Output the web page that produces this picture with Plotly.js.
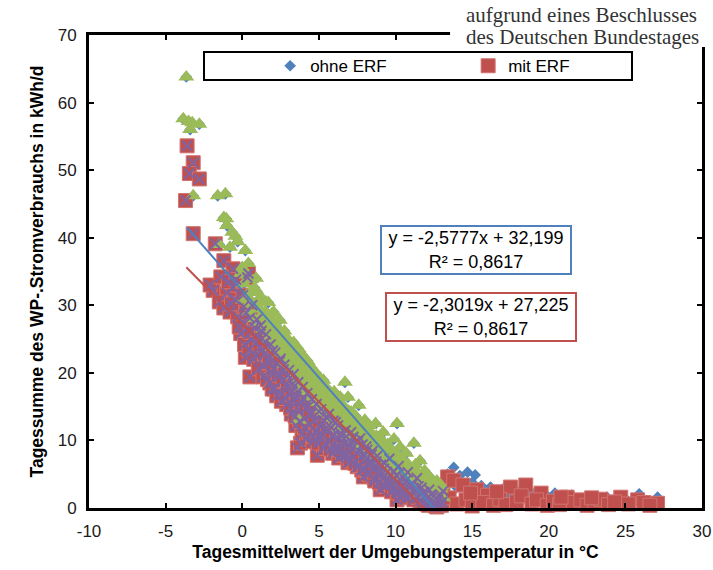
<!DOCTYPE html>
<html>
<head>
<meta charset="utf-8">
<script src="https://cdn.plot.ly/plotly-3.0.1.min.js"></script>
<style>html,body{margin:0;padding:0;background:#fff;}#chart{width:713px;height:570px;}</style>
</head>
<body>
<div id="chart"></div>
<script>
// ohne ERF: daily mean temperature (°C) and daily WP electricity (kWh/d)
const ohneTemp = [-3.65,-3.85,-3.5,-3.26,-2.8,-3.4,-3.2,-1.6,-1.1,-1.04,-1.2,-1.0,-0.65,-0.45,-0.8,-0.3,0.2,-1.5,-0.1,0.5,
  0.0,0.1,0.3,0.4,0.6,0.7,0.8,1.0,1.1,1.2,1.3,1.5,1.6,1.7,1.8,1.9,2.0,2.1,2.2,2.3,2.5,2.6,2.7,2.8,2.9,3.0,3.1,3.2,3.3,3.4,
  3.5,3.6,3.7,3.7,3.8,3.9,4.0,4.1,4.2,4.3,4.4,4.5,4.6,4.7,4.8,4.9,5.0,5.1,5.2,5.3,5.4,5.5,5.6,5.7,5.8,5.9,6.0,6.1,6.2,6.3,
  6.4,6.5,6.6,6.7,6.8,6.9,7.0,7.1,7.2,7.3,7.4,7.6,7.7,7.8,7.9,8.0,8.1,8.3,8.4,8.5,8.7,8.8,8.9,9.0,9.1,9.2,9.4,9.5,9.6,9.7,
  9.9,10.1,10.0,10.2,10.3,10.5,10.6,10.7,10.9,11.0,11.2,11.3,11.5,11.6,11.8,11.9,12.1,12.2,12.4,12.5,12.7,12.8,13.0,13.1,
  0.05,0.25,0.45,0.55,0.75,0.9,1.05,1.15,1.35,1.45,1.55,1.75,1.85,1.95,2.05,2.15,2.35,2.45,2.55,2.65,2.75,2.85,2.95,3.05,
  3.15,3.25,3.35,3.45,3.55,3.65,3.75,3.85,3.95,4.05,4.15,4.25,4.35,4.45,4.55,4.65,4.75,4.85,4.95,5.05,5.15,5.25,5.35,5.45,5.55,5.65,5.75,5.85,5.95,
  6.05,6.15,6.25,6.35,6.45,6.55,6.65,6.75,6.85,6.95,7.05,7.15,7.25,7.35,7.45,7.55,7.65,7.75,7.85,7.95,8.05,8.15,8.25,8.35,8.45,8.55,8.65,8.75,8.85,8.95,
  9.05,9.15,9.25,9.35,9.45,9.55,9.65,9.75,9.85,9.95,10.05,10.15,10.25,10.35,10.45,10.55,10.65,10.75,10.85,10.95,11.05,11.15,11.25,11.4,11.45,11.55,11.7,11.75,11.85,12.0,12.05,12.3,12.35,12.6,12.65,12.9,12.95,
  13.4,13.8,14.2,14.7,15.2,15.0,15.6,16.2,16.6,17.0,17.4,17.9,18.4,18.8,19.3,19.8,20.4,20.9,21.5,22.0,22.6,23.2,23.8,24.4,25.0,25.9,26.4,27.1,
  14.0,16.0,18.0,20.0,22.3,24.8];
const ohneKwh = [63.8,57.6,57.2,57.0,56.8,56.0,46.2,46.2,46.5,42.8,43.0,41.8,40.8,40.2,38.6,39.4,38.1,39.0,34.7,30.3,
  35.6,33.2,31.5,36.2,33.8,30.2,32.6,31.9,29.5,28.4,30.8,29.1,27.2,30.4,26.0,28.7,25.3,27.4,24.1,26.6,25.8,23.2,24.9,22.0,25.1,23.6,21.4,24.0,22.3,20.2,
  22.9,21.0,13.0,19.2,23.1,20.6,21.8,18.7,20.4,17.6,21.2,19.3,16.9,18.5,20.0,15.8,18.0,17.1,14.6,18.9,16.3,15.0,17.4,13.8,16.0,14.9,17.2,12.6,15.4,13.9,
  16.4,12.0,14.6,18.6,13.1,16.4,11.7,14.2,12.9,10.5,13.6,15.2,11.2,12.5,9.6,13.0,10.8,12.2,8.7,10.1,12.5,9.2,7.6,10.4,8.3,11.2,7.0,9.4,6.3,8.6,
  10.2,12.5,7.4,5.6,9.0,6.8,4.7,8.1,5.9,3.8,9.6,6.4,4.4,7.0,3.2,5.5,2.6,4.7,3.6,1.8,4.0,2.4,3.3,1.5,
  30.8,34.5,29.0,32.0,28.0,34.0,27.3,31.0,26.5,28.0,30.5,25.0,27.6,23.8,29.0,25.5,22.8,27.8,24.3,21.3,26.2,23.5,20.7,24.8,
  22.6,19.6,24.5,21.6,18.6,23.6,20.8,17.8,22.3,19.9,17.2,21.8,19.3,16.4,20.6,18.0,15.6,19.6,17.2,14.8,19.0,16.6,14.1,17.9,15.8,13.3,17.1,14.8,12.6,
  16.2,14.0,11.8,15.8,13.4,11.2,15.0,12.6,10.6,14.3,12.3,10.0,13.8,11.6,9.4,12.8,10.8,8.8,12.0,10.3,8.2,11.4,9.6,7.6,11.0,8.9,7.0,10.6,8.2,6.5,
  9.6,7.6,5.9,9.2,7.2,5.4,8.8,6.6,4.9,8.0,6.0,4.4,7.6,5.4,3.9,7.0,5.2,3.5,6.4,4.6,3.0,5.8,4.0,2.6,5.2,3.4,2.2,4.6,2.9,1.8,4.0,2.3,3.3,1.4,3.1,1.7,2.8,
  5.0,6.0,4.8,5.3,4.9,3.8,3.3,3.1,2.4,2.8,2.0,2.6,1.9,2.5,1.6,2.0,2.2,1.5,1.9,1.3,1.7,1.2,1.6,1.0,1.4,2.1,1.1,1.6,
  3.0,1.5,1.0,0.8,0.9,0.7];

// mit ERF
const mitTemp = [-3.6,-3.2,-3.45,-2.8,-3.7,-3.2,-1.76,-1.2,-0.6,0.33,0.4,-1.9,-2.1,-1.0,-0.6,-0.1,0.2,0.5,1.8,3.6,3.8,4.9,7.9,9.0,10.1,12.7,
  -1.5,-1.2,-0.8,-0.5,-0.3,0.0,0.1,0.3,0.5,0.6,0.8,0.9,1.0,1.2,1.3,1.4,1.5,1.7,1.9,2.0,2.1,2.2,2.4,2.5,2.6,2.7,2.8,2.9,3.0,3.1,3.2,3.3,3.4,3.5,
  3.6,3.7,3.9,4.0,4.1,4.2,4.3,4.4,4.5,4.6,4.7,4.8,5.0,5.1,5.2,5.3,5.4,5.5,5.6,5.8,5.9,6.0,6.1,6.2,6.3,6.4,6.5,6.7,6.8,6.9,
  7.0,7.1,7.2,7.4,7.5,7.6,7.7,7.8,8.0,8.1,8.2,8.3,8.5,8.6,8.7,8.8,9.1,9.2,9.3,9.5,9.6,9.8,9.9,10.0,10.2,10.4,10.5,10.6,10.8,11.0,
  11.1,11.3,11.4,11.6,11.7,11.9,12.0,12.2,12.3,12.5,12.8,13.0,13.1,
  -1.4,-0.9,-0.7,-0.4,-0.2,0.05,0.15,0.25,0.45,0.55,0.65,0.75,0.85,0.95,1.05,1.15,1.25,1.35,1.45,1.55,1.65,1.75,1.85,1.95,2.05,2.15,2.25,2.35,2.45,2.55,2.65,2.75,2.85,2.95,
  3.05,3.15,3.25,3.35,3.45,3.55,3.65,3.75,3.85,3.95,4.05,4.15,4.25,4.35,4.45,4.55,4.65,4.75,4.85,4.95,5.05,5.15,5.25,5.35,5.45,5.55,5.65,5.75,5.85,5.95,
  6.05,6.15,6.25,6.35,6.45,6.55,6.65,6.75,6.85,6.95,7.05,7.15,7.25,7.35,7.45,7.55,7.65,7.75,7.85,7.95,8.05,8.15,8.25,8.35,8.45,8.55,8.65,8.75,8.85,8.95,
  9.05,9.15,9.25,9.35,9.45,9.55,9.65,9.75,9.85,9.95,10.05,10.15,10.25,10.35,10.45,10.55,10.65,10.75,10.85,10.95,11.05,11.2,11.25,11.45,11.5,11.65,11.8,11.85,12.05,12.15,12.35,12.45,12.6,12.75,12.95,13.05,
  13.4,13.8,14.4,15.3,16.0,17.5,18.5,19.5,21.2,24.7,25.8,27.1,13.5,14.0,14.6,15.0,15.7,16.4,16.8,17.2,17.9,18.2,18.9,19.2,19.9,20.3,20.7,
  21.6,22.1,22.5,23.0,23.4,23.9,24.3,25.2,26.2,26.6,14.9,16.6,22.8,20.8];
const mitKwh = [53.6,51.1,49.5,48.7,45.5,40.6,39.1,36.6,35.4,34.1,34.7,32.2,33.0,31.8,32.6,25.8,22.3,19.4,18.5,8.9,9.6,7.8,4.6,2.7,1.2,0.15,
  30.5,29.6,29.0,30.9,28.3,27.5,29.8,26.4,28.1,24.9,26.7,22.6,25.2,27.0,23.4,21.0,24.6,22.2,20.1,23.3,17.6,21.5,19.4,22.1,16.8,20.5,18.2,15.3,19.6,17.0,13.9,18.4,15.9,12.2,
  17.2,14.6,11.0,16.2,13.3,10.2,15.0,12.4,14.1,9.8,13.0,11.4,14.3,10.4,12.6,8.8,11.7,13.4,9.9,11.9,8.1,10.8,12.7,9.2,7.4,11.1,9.9,8.0,10.6,6.7,
  9.3,11.2,7.6,9.9,6.1,8.4,10.3,5.6,7.8,9.1,5.3,6.9,8.4,4.4,6.3,7.7,5.0,3.4,6.6,4.3,7.3,2.6,5.4,3.7,6.2,2.0,4.6,3.0,5.3,1.7,
  3.6,2.4,4.4,1.0,3.0,1.9,0.6,2.7,1.3,0.5,1.8,0.4,2.5,
  34.2,33.5,30.2,33.8,26.8,31.5,24.2,28.9,23.4,26.0,30.0,22.0,24.4,27.9,20.6,23.8,26.2,19.4,22.8,25.7,19.0,21.5,24.2,17.6,20.6,23.0,16.6,19.9,21.7,15.8,18.9,21.2,16.2,18.0,
  20.4,14.8,17.4,19.8,13.6,16.5,18.6,12.8,15.6,17.9,11.9,14.8,17.0,11.2,13.8,16.1,10.6,12.9,15.4,9.6,12.1,14.6,10.9,12.9,9.4,11.4,13.9,8.7,10.6,12.9,
  8.6,10.0,12.2,8.6,10.6,7.8,9.6,11.5,7.9,9.4,7.0,8.8,10.5,6.6,8.2,9.8,6.3,7.6,9.4,5.8,7.0,8.6,5.0,6.4,7.9,5.6,4.0,6.9,5.2,3.8,
  6.4,4.4,5.8,3.2,5.3,3.6,4.9,2.4,4.1,3.0,4.8,2.2,3.6,1.5,3.2,2.4,4.0,1.6,3.0,2.0,3.4,1.2,2.6,1.6,3.2,2.0,0.8,2.4,1.5,0.4,2.0,1.0,0.3,1.2,1.9,0.9,
  4.6,4.1,3.4,2.7,1.9,3.1,3.4,2.2,1.6,1.6,1.2,0.7,1.5,0.6,1.2,0.3,0.8,0.4,1.3,0.5,0.9,1.8,0.6,1.2,0.4,1.0,0.5,
  0.8,1.2,0.4,0.9,1.3,0.5,0.9,0.6,0.8,0.4,2.2,2.4,1.5,1.6];

// heating-period cut (triangles / crosses shown for these days)
const heatingLimit = 13.2;

// linear trend lines (endpoints)
const trendOhneX = [-3.6, 12.49];
const trendOhneY = [41.48, 0];
const trendMitX = [-3.65, 11.83];
const trendMitY = [35.63, 0];

const xTicks = [-10,-5,0,5,10,15,20,25,30];
const yTicks = [0,10,20,30,40,50,60,70];

const legendNames = ['ohne ERF', 'mit ERF'];
const eqOhne = 'y = -2,5777x + 32,199<br>R² = 0,8617';
const eqMit = 'y = -2,3019x + 27,225<br>R² = 0,8617';

const cBlue = '#4F81BD', cRed = '#C0504D', cGreen = '#9BBB59', cPurple = '#8064A2';

const pick = (xs, ys, keep) => {
  const ox = [], oy = [];
  xs.forEach((t, i) => { if (keep(t)) { ox.push(t); oy.push(ys[i]); } });
  return [ox, oy];
};
const [gX, gY] = pick(ohneTemp, ohneKwh, t => t < heatingLimit);
const [pX, pY] = pick(mitTemp, mitKwh, t => t < heatingLimit);

const traces = [
  {x: ohneTemp, y: ohneKwh, type: 'scatter', mode: 'markers', name: legendNames[0], cliponaxis: false,
   marker: {symbol: 'diamond', size: 9, color: cBlue}},
  {x: mitTemp, y: mitKwh, type: 'scatter', mode: 'markers', name: legendNames[1], cliponaxis: false,
   marker: {symbol: 'square', size: 14, color: cRed, line: {color: '#D07370', width: 1}}},
  {x: gX, y: gY, type: 'scatter', mode: 'markers', showlegend: false, cliponaxis: false,
   marker: {symbol: 'triangle-up', size: 14, color: cGreen}},
  {x: pX, y: pY, type: 'scatter', mode: 'markers', showlegend: false, cliponaxis: false,
   marker: {symbol: 'x-thin-open', size: 10, color: cPurple, line: {color: cPurple, width: 2}}},
  {x: trendOhneX, y: trendOhneY, type: 'scatter', mode: 'lines', showlegend: false,
   line: {color: cBlue, width: 2}},
  {x: trendMitX, y: trendMitY, type: 'scatter', mode: 'lines', showlegend: false,
   line: {color: cRed, width: 2}}
];

const axisCommon = {
  showgrid: false, zeroline: false, showline: true, linecolor: '#000', linewidth: 3,
  mirror: 'ticks', ticks: 'inside', ticklen: 5, tickwidth: 2, tickcolor: '#000', automargin: false,
  ticklabelstandoff: 6,
  tickfont: {family: 'Arial, Liberation Sans, sans-serif', size: 17, color: '#1a1a1a'}
};

const layout = {
  width: 713, height: 570,
  margin: {l: 89, r: 11, t: 35, b: 62, autoexpand: false},
  paper_bgcolor: '#fff', plot_bgcolor: '#fff',
  showlegend: true,
  legend: {orientation: 'h', x: 0.2955, y: 0.934, xanchor: 'left', yanchor: 'middle',
    entrywidth: 153, entrywidthmode: 'pixels', bgcolor: 'rgba(0,0,0,0)', borderwidth: 0,
    font: {family: 'Arial, Liberation Sans, sans-serif', size: 17, color: '#000'}},
  xaxis: Object.assign({}, axisCommon, {range: [-10, 30], tickvals: xTicks, ticktext: xTicks.map(String),
    title: {text: 'Tagesmittelwert der Umgebungstemperatur in °C', standoff: 6,
      font: {family: 'Arial, Liberation Sans, sans-serif', size: 17.5, color: '#000', weight: 'bold'}}}),
  yaxis: Object.assign({}, axisCommon, {range: [0, 70], tickvals: yTicks, ticktext: yTicks.map(String),
    title: {text: 'Tagessumme des WP-.Stromverbrauchs in kWh/d', standoff: 10,
      font: {family: 'Arial, Liberation Sans, sans-serif', size: 17.5, color: '#000', weight: 'bold'}}}),
  shapes: [
    {type: 'rect', xref: 'paper', yref: 'paper', x0: 0.1876, x1: 0.8858, y0: 0.905, y1: 0.964,
     line: {color: '#000', width: 2}, fillcolor: 'rgba(0,0,0,0)', layer: 'above'},
    {type: 'rect', xref: 'paper', yref: 'paper', x0: 0.589, x1: 1.03, y0: 0.9746, y1: 1.08,
     line: {width: 0}, fillcolor: '#fff', layer: 'above'}
  ],
  annotations: [
    {xref: 'paper', yref: 'paper', x: 0.631, y: 0.545, xanchor: 'center', yanchor: 'middle', showarrow: false,
     text: eqOhne, width: 186, height: 44, borderpad: 1, bordercolor: cBlue, borderwidth: 2, bgcolor: '#fff',
     font: {family: 'Arial, Liberation Sans, sans-serif', size: 18, color: '#000'}},
    {xref: 'paper', yref: 'paper', x: 0.6395, y: 0.404, xanchor: 'center', yanchor: 'middle', showarrow: false,
     text: eqMit, width: 186, height: 44, borderpad: 1, bordercolor: cRed, borderwidth: 2, bgcolor: '#fff',
     font: {family: 'Arial, Liberation Sans, sans-serif', size: 18, color: '#000'}},
    {xref: 'paper', yref: 'paper', x: 0.612, y: 1.043, xanchor: 'left', yanchor: 'middle', showarrow: false,
     text: 'aufgrund eines Beschlusses',
     font: {family: 'Liberation Serif, DejaVu Serif, serif', size: 21, color: '#333'}},
    {xref: 'paper', yref: 'paper', x: 0.612, y: 0.9955, xanchor: 'left', yanchor: 'middle', showarrow: false,
     text: 'des Deutschen Bundestages',
     font: {family: 'Liberation Serif, DejaVu Serif, serif', size: 21, color: '#333'}}
  ]
};

Plotly.newPlot('chart', traces, layout, {displayModeBar: false, staticPlot: true});
</script>
</body>
</html>
